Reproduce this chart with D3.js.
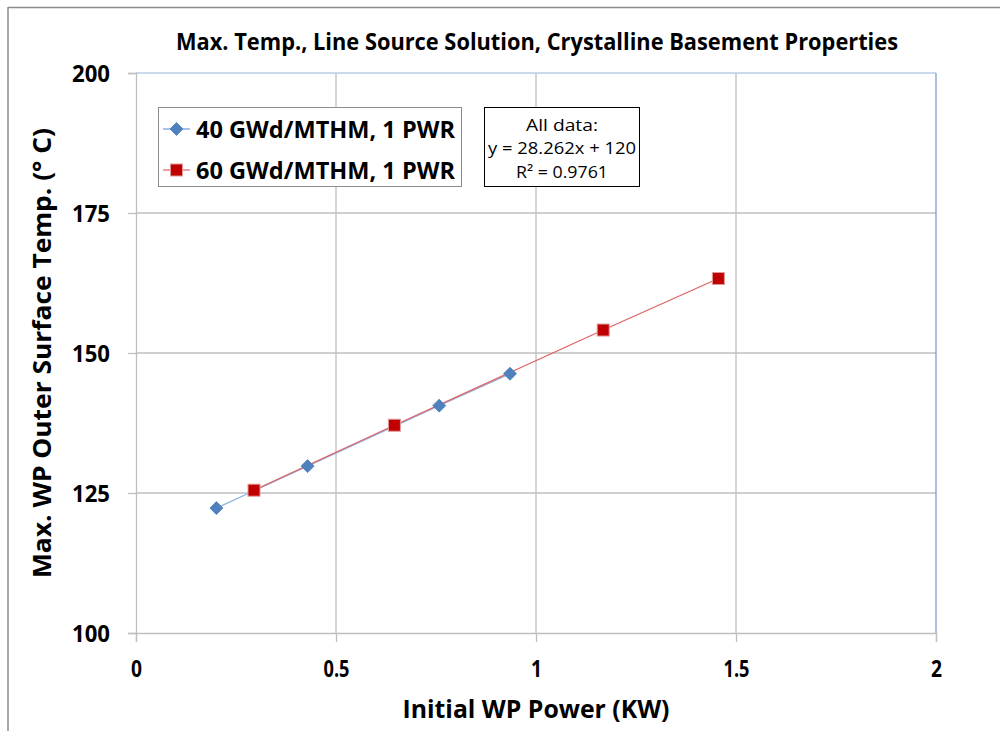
<!DOCTYPE html>
<html><head><meta charset="utf-8">
<script src="https://cdn.jsdelivr.net/npm/d3@7"></script>
<style>body{margin:0;background:#fff}svg{display:block}text{font-family:"Open Sans",sans-serif}</style>
</head><body><svg id="c" width="1000" height="731"></svg>
<script>
const titleText = "Max. Temp., Line Source Solution, Crystalline Basement Properties";
const xTitle = "Initial WP Power (KW)";
const yTitle = "Max. WP Outer Surface Temp. (° C)";
const xTicks = [0, 0.5, 1, 1.5, 2];
const yTicks = [100, 125, 150, 175, 200];
const series40Name = "40 GWd/MTHM, 1 PWR";
const series40X = [0.201, 0.429, 0.758, 0.935];
const series40Y = [122.3, 129.8, 140.6, 146.3];
const series60Name = "60 GWd/MTHM, 1 PWR";
const series60X = [0.295, 0.646, 1.168, 1.456];
const series60Y = [125.5, 137.1, 154.1, 163.3];
const fitLines = ["All data:", "y = 28.262x + 120", "R² = 0.9761"];

const svg = d3.select("#c");
const x = d3.scaleLinear().domain([0, 2]).range([136, 936]);
const y = d3.scaleLinear().domain([100, 200]).range([633, 73]);

// outer chart border (partially visible)
svg.append("line").attr("x1", 8).attr("x2", 1000).attr("y1", 7.5).attr("y2", 7.5).attr("stroke", "#8c8c8c").attr("stroke-width", 1.5);
svg.append("line").attr("x1", 8).attr("x2", 8).attr("y1", 7).attr("y2", 731).attr("stroke", "#8c8c8c").attr("stroke-width", 1.5);

// title
svg.append("text").attr("x", 537).attr("y", 50).attr("text-anchor", "middle")
  .attr("font-size", 22.5).attr("font-weight", "bold").attr("textLength", 722).attr("lengthAdjust", "spacingAndGlyphs")
  .text(titleText);

// gridlines
const g = svg.append("g");
g.selectAll(".hg").data(yTicks.filter(d => d !== 100 && d !== 200)).join("line")
  .attr("x1", x(0)).attr("x2", x(2)).attr("y1", d => y(d)).attr("y2", d => y(d))
  .attr("stroke", "#bfbfbf").attr("stroke-width", 1.3);
g.selectAll(".vg").data(xTicks.filter(d => d !== 0 && d !== 2)).join("line")
  .attr("x1", d => x(d)).attr("x2", d => x(d)).attr("y1", y(200)).attr("y2", y(100))
  .attr("stroke", "#bfbfbf").attr("stroke-width", 1.3);
// plot top and right borders (light blue)
g.append("line").attr("x1", x(0)).attr("x2", x(2)).attr("y1", y(200)).attr("y2", y(200)).attr("stroke", "#b9cde5").attr("stroke-width", 1.5);
g.append("line").attr("x1", x(2)).attr("x2", x(2)).attr("y1", y(200)).attr("y2", y(100)).attr("stroke", "#7f9fd0").attr("stroke-width", 1.3);

// axes
const xAxis = d3.axisBottom(x).tickValues(xTicks).tickFormat(d3.format("")).tickSize(9).tickPadding(15);
const yAxis = d3.axisLeft(y).tickValues(yTicks).tickSize(8).tickPadding(18);
const xa = svg.append("g").attr("transform", `translate(0,${y(100)})`).call(xAxis);
const ya = svg.append("g").attr("transform", `translate(${x(0)},0)`).call(yAxis);
[xa, ya].forEach(a => {
  a.select(".domain").attr("stroke", "#bfbfbf").attr("stroke-width", 1.3);
  a.selectAll(".tick line").attr("stroke", "#bfbfbf").attr("stroke-width", 1.3);
  a.selectAll(".tick text").attr("font-size", 23).attr("font-weight", "bold").attr("fill", "#000")
    .attr("font-family", "Open Sans").attr("transform", null);
});
xa.selectAll(".tick text").attr("dy", "0.85em");
ya.selectAll(".tick text").attr("dy", "0.36em").attr("textLength", 38).attr("lengthAdjust", "spacingAndGlyphs");
xa.selectAll(".tick text").each(function(d){
  const s = d3.format("")(d);
  d3.select(this).attr("textLength", s.length === 1 ? 11 : 26).attr("lengthAdjust", "spacingAndGlyphs");
});

// axis titles
svg.append("text").attr("x", 536).attr("y", 718).attr("text-anchor", "middle")
  .attr("font-size", 25).attr("font-weight", "bold").attr("textLength", 267).attr("lengthAdjust", "spacingAndGlyphs")
  .text(xTitle);
svg.append("text").attr("transform", "translate(51,353) rotate(-90)").attr("text-anchor", "middle")
  .attr("font-size", 25).attr("font-weight", "bold").attr("textLength", 450).attr("lengthAdjust", "spacingAndGlyphs")
  .text(yTitle);

// series lines
const line = d3.line().x(d => x(d[0])).y(d => y(d[1]));
const d40 = series40X.map((v, i) => [v, series40Y[i]]);
const d60 = series60X.map((v, i) => [v, series60Y[i]]);
svg.append("path").datum(d40).attr("d", line).attr("fill", "none").attr("stroke", "#8db3e2").attr("stroke-width", 1.2);
svg.append("path").datum(d60).attr("d", line).attr("fill", "none").attr("stroke", "#e06060").attr("stroke-width", 1.2);

function drawDiamond(sel, cx, cy) {
  sel.append("path").attr("d", "M0,-6.5L6.5,0L0,6.5L-6.5,0Z").attr("transform", `translate(${cx},${cy})`)
    .attr("fill", "#4f81bd").attr("stroke", "#4a7dbb").attr("stroke-width", 0.8);
}
function drawSquare(sel, cx, cy) {
  sel.append("rect").attr("x", cx - 6).attr("y", cy - 6).attr("width", 12).attr("height", 12)
    .attr("fill", "#c00000").attr("stroke", "#e09a9a").attr("stroke-width", 1);
}
d40.forEach(d => drawDiamond(svg, x(d[0]), y(d[1])));
d60.forEach(d => drawSquare(svg, x(d[0]), y(d[1])));

// legend
const lg = svg.append("g");
lg.append("rect").attr("x", 158.5).attr("y", 107.5).attr("width", 303).attr("height", 79)
  .attr("fill", "#fff").attr("stroke", "#8c8c8c").attr("stroke-width", 1);
lg.append("line").attr("x1", 163).attr("x2", 190).attr("y1", 129).attr("y2", 129).attr("stroke", "#6f9bd4").attr("stroke-width", 1.2);
drawDiamond(lg, 176.5, 129);
lg.append("text").attr("x", 196).attr("y", 137.5).attr("font-size", 24).attr("font-weight", "bold")
  .attr("textLength", 259).attr("lengthAdjust", "spacingAndGlyphs").text(series40Name);
lg.append("line").attr("x1", 163).attr("x2", 190).attr("y1", 170).attr("y2", 170).attr("stroke", "#e06060").attr("stroke-width", 1.2);
drawSquare(lg, 176.5, 170);
lg.append("text").attr("x", 196).attr("y", 178.5).attr("font-size", 24).attr("font-weight", "bold")
  .attr("textLength", 259).attr("lengthAdjust", "spacingAndGlyphs").text(series60Name);

// fit annotation
const ag = svg.append("g");
ag.append("rect").attr("x", 484.5).attr("y", 107.5).attr("width", 155).attr("height", 79)
  .attr("fill", "#fff").attr("stroke", "#000").attr("stroke-width", 1);
const fitW = [72, 148, 92];
fitLines.forEach((t, i) => {
  ag.append("text").attr("x", 562).attr("y", 130.5 + i * 23.5).attr("text-anchor", "middle")
    .attr("font-size", 17).attr("textLength", fitW[i]).attr("lengthAdjust", "spacingAndGlyphs").text(t);
});
</script></body></html>
